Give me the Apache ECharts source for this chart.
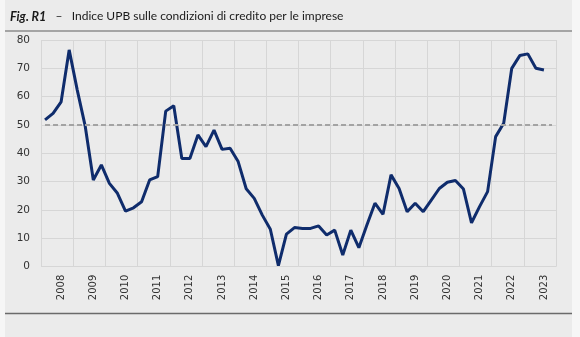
<!DOCTYPE html>
<html>
<head>
<meta charset="utf-8">
<script src="https://cdn.jsdelivr.net/npm/echarts@6/dist/echarts.min.js"></script>
<style>
html,body{margin:0;padding:0;background:#f6f6f6;}
#c{width:580px;height:337px;}
</style>
</head>
<body>
<div id="c"></div>
<script>
// Tick labels (years shown on the x axis)
const years = ['2008','2009','2010','2011','2012','2013','2014','2015','2016','2017','2018','2019','2020','2021','2022','2023'];
// Quarterly categories: 2007 Q3 ... 2023 Q2
const categories = [];
for (let i = 0; i < 64; i++) {
  const y = 2007 + Math.floor((i + 2) / 4);
  const q = ((i + 2) % 4) + 1;
  categories.push(y + ' T' + q);
}
// Indice UPB (quarterly values)
const values = [51.8, 54.1, 58.2, 76.5, 62.4, 49.5, 30.6, 35.9, 29.4, 25.9, 19.6, 20.8, 22.9, 30.6, 31.8, 54.9,
  56.8, 38.2, 38.2, 46.5, 42.4, 48.2, 41.4, 41.8, 37.1, 27.5, 24.1, 18.2, 13.2, 0.4, 11.5, 13.8,
  13.5, 13.5, 14.4, 11.2, 12.9, 4.1, 12.9, 6.7, 14.7, 22.4, 18.5, 32.4, 27.6, 19.4, 22.4, 19.4,
  23.5, 27.6, 29.8, 30.4, 27.4, 15.5, 21.2, 26.5, 45.9, 50.6, 70.0, 74.5, 75.1, 70.0, 69.4];
const threshold = 50;
const yTicks = {min: 0, max: 80, interval: 10};

const chart = echarts.init(document.getElementById('c'), null, {renderer: 'canvas'});
chart.setOption({
  animation: false,
  backgroundColor: 'transparent',
  graphic: [
    {type: 'rect', shape: {x: 5, y: 0, width: 567, height: 337}, style: {fill: '#ebebeb'}, z: -10},
    {type: 'line', shape: {x1: 5, y1: 31, x2: 572, y2: 31}, style: {stroke: '#5f5f5f', lineWidth: 1.2}},
    {type: 'line', shape: {x1: 5, y1: 313.5, x2: 572, y2: 313.5}, style: {stroke: '#6a6a6a', lineWidth: 1.5}}
  ],
  title: {
    left: 5, top: 5,
    text: '{b|Fig. R1}{n|   –   Indice UPB sulle condizioni di credito per le imprese}',
    textStyle: {
      fontWeight: 'normal',
      rich: {
        b: {fontFamily: 'Lato', fontWeight: 'bold', fontStyle: 'italic', fontSize: 12.5, color: '#1a1a1a'},
        n: {fontFamily: 'Lato', fontWeight: 'normal', fontSize: 12, color: '#1a1a1a'}
      }
    }
  },
  grid: {left: 41, right: 24, top: 40, bottom: 70.3, containLabel: false},
  xAxis: {
    type: 'category',
    data: categories,
    boundaryGap: true,
    axisLine: {show: false},
    axisTick: {show: false},
    splitLine: {show: true, interval: 3, lineStyle: {color: '#d6d6d6', width: 1}},
    axisLabel: {
      rotate: 90,
      margin: 8,
      interval: function (idx) { return (idx + 2) % 4 === 0; },
      formatter: function (v) { const y = v.split(' ')[0]; return years.indexOf(y) >= 0 ? y : ''; },
      fontFamily: 'DejaVu Sans', fontSize: 10, color: '#333333'
    }
  },
  yAxis: {
    type: 'value',
    min: yTicks.min, max: yTicks.max, interval: yTicks.interval,
    axisLine: {show: false},
    axisTick: {show: false},
    splitLine: {lineStyle: {color: '#d6d6d6', width: 1}},
    axisLabel: {margin: 11, fontFamily: 'DejaVu Sans', fontSize: 10.5, color: '#333333'}
  },
  series: [{
    type: 'line',
    data: values,
    symbol: 'none',
    lineStyle: {color: '#0f2c6c', width: 3},
    markLine: {
      silent: true,
      symbol: 'none',
      label: {show: false},
      lineStyle: {color: '#a3a3a3', type: [5, 3], width: 2},
      data: [[{coord: [categories[0], threshold]}, {coord: [categories[63], threshold]}]]
    }
  }]
});
</script>
</body>
</html>
